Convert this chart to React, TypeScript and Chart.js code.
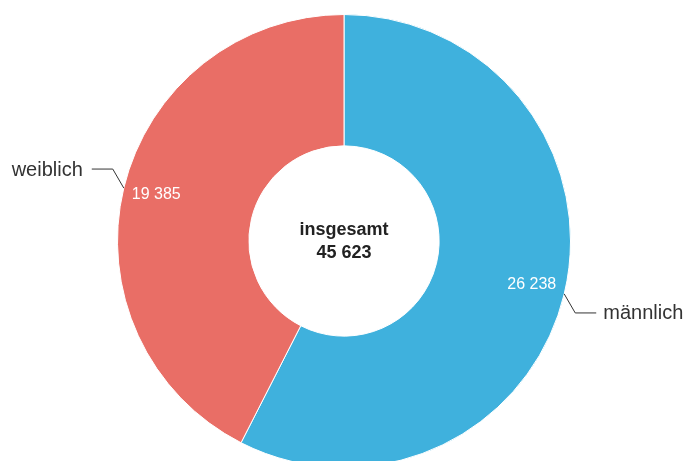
import React, { useEffect, useRef } from "react";
import { Chart, registerables } from "chart.js";

Chart.register(...registerables);

const categories = ["männlich", "weiblich"];
const values = [26238, 19385];
const colors = ["#3FB1DD", "#E96E66"];
const totalLabel = "insgesamt";

const fmt = (n: number) => String(n).replace(/\B(?=(\d{3})+(?!\d))/g, " ");

const FONT = "'Liberation Sans', Arial, sans-serif";

const labelPlugin = {
  id: "labelPlugin",
  afterDraw(chart: any) {
    const ctx = chart.ctx;
    const meta = chart.getDatasetMeta(0);
    const total = values.reduce((a, b) => a + b, 0);
    meta.data.forEach((arc: any, i: number) => {
      const { x, y, startAngle, endAngle, outerRadius } = arc.getProps(
        ["x", "y", "startAngle", "endAngle", "outerRadius"],
        true
      );
      const mid = (startAngle + endAngle) / 2;
      const cx = Math.cos(mid);
      const cy = Math.sin(mid);
      const px = x + cx * outerRadius;
      const py = y + cy * outerRadius;
      const right = cx >= 0;
      const dir = right ? 1 : -1;
      // leader line
      const ex = px + dir * 11;
      const ey = py + (cy >= 0 ? 1 : -1) * 19;
      const hx = ex + dir * 21;
      ctx.save();
      ctx.strokeStyle = "#333333";
      ctx.lineWidth = 1;
      ctx.beginPath();
      ctx.moveTo(px, py);
      ctx.lineTo(ex, ey);
      ctx.lineTo(hx, ey);
      ctx.stroke();
      ctx.fillStyle = "#333333";
      ctx.font = `20px ${FONT}`;
      ctx.textBaseline = "middle";
      ctx.textAlign = right ? "left" : "right";
      ctx.fillText(categories[i], hx + dir * (right ? 7 : 9), ey + 1);
      // inner value
      ctx.fillStyle = "#ffffff";
      ctx.font = `16px ${FONT}`;
      ctx.textAlign = right ? "right" : "left";
      ctx.fillText(fmt(values[i]), px - dir * 8, py + (cy >= 0 ? -9 : 7));
      ctx.restore();
    });
    // center text
    const a = meta.data[0];
    ctx.save();
    ctx.fillStyle = "#222222";
    ctx.font = `bold 18px ${FONT}`;
    ctx.textAlign = "center";
    ctx.textBaseline = "middle";
    ctx.fillText(totalLabel, a.x, a.y - 11);
    ctx.fillText(fmt(total), a.x, a.y + 12);
    ctx.restore();
  },
};

export default function App() {
  const ref = useRef<HTMLCanvasElement>(null);
  useEffect(() => {
    document.body.style.margin = "0";
    const chart = new Chart(ref.current!, {
      type: "doughnut",
      data: {
        labels: categories,
        datasets: [
          {
            data: values,
            backgroundColor: colors,
            borderColor: "#ffffff",
            borderWidth: 1,
            hoverOffset: 0,
          },
        ],
      },
      options: {
        responsive: false,
        animation: false,
        cutout: "42%",
        layout: { padding: { top: 14, bottom: 14, left: 2, right: 0 } },
        plugins: {
          legend: { display: false },
          tooltip: { enabled: false },
        },
      },
      plugins: [labelPlugin],
    });
    return () => chart.destroy();
  }, []);
  return (
    <div style={{ width: 686, height: 461, overflow: "hidden", position: "relative", background: "#fff" }}>
      <canvas ref={ref} width={686} height={482} style={{ display: "block" }} />
    </div>
  );
}
